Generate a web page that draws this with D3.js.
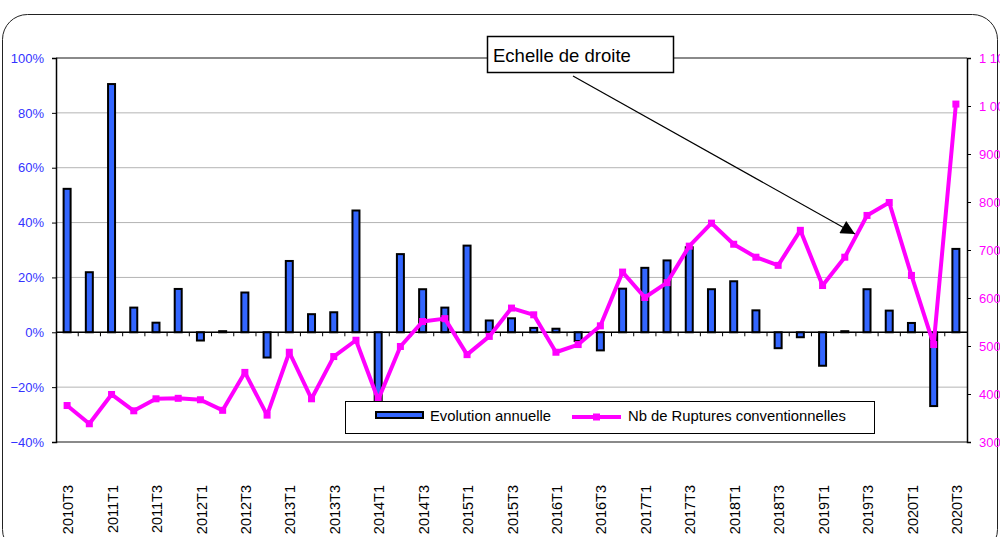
<!DOCTYPE html>
<html>
<head>
  <meta charset="UTF-8">
  <style>
    body { margin: 0; background: white; }
    svg { font-family: Arial, "Liberation Sans", sans-serif; }
  </style>
</head>
<body>
<svg></svg>
<script src="https://d3js.org/d3.v7.min.js"></script>
<script>

let width = 1000, height = 537;

// quarters 2010T3 .. 2020T3
const quarters = ["2010T3","2010T4","2011T1","2011T2","2011T3","2011T4","2012T1","2012T2","2012T3","2012T4",
  "2013T1","2013T2","2013T3","2013T4","2014T1","2014T2","2014T3","2014T4","2015T1","2015T2",
  "2015T3","2015T4","2016T1","2016T2","2016T3","2016T4","2017T1","2017T2","2017T3","2017T4",
  "2018T1","2018T2","2018T3","2018T4","2019T1","2019T2","2019T3","2019T4","2020T1","2020T2","2020T3"];

// evolution annuelle (%)
const evolution = [52.3, 21.9, 90.5, 9.0, 3.5, 15.8, -3.0, 0.4, 14.5, -9.2,
  26.0, 6.6, 7.3, 44.4, -24.7, 28.5, 15.7, 9.0, 31.6, 4.3,
  5.1, 1.6, 1.3, -3.2, -6.6, 15.9, 23.5, 26.2, 31.0, 15.7,
  18.6, 8.0, -5.8, -1.8, -12.2, 0.4, 15.7, 7.9, 3.4, -26.9, 30.4];

// Nb de ruptures conventionnelles (echelle de droite)
const ruptures = [376, 338, 399, 365, 390, 391, 388, 366, 445, 356,
  487, 390, 478, 512, 388, 499, 551, 557, 482, 520,
  579, 565, 487, 503, 542, 654, 601, 632, 708, 756,
  712, 685, 668, 741, 626, 685, 772, 799, 647, 503, 1004];

const leftTicks = [-0.4, -0.2, 0, 0.2, 0.4, 0.6, 0.8, 1.0];
const rightTicks = [300, 400, 500, 600, 700, 800, 900, 1000, 1100];

const plot = {left: 56, right: 967, top: 58, bottom: 442};

let svg = d3.select("svg")
    .attr("width", width)
    .attr("height", height)
    .attr("viewBox", "0 0 " + width + " " + height);

// outer frame
svg.append("rect")
  .attr("x", 2.5).attr("y", 14.5)
  .attr("width", 995).attr("height", 540)
  .attr("rx", 25)
  .attr("fill", "white")
  .attr("stroke", "#222").attr("stroke-width", 1);

let x = d3.scaleBand().domain(quarters).range([plot.left, plot.right]).padding(0);
let yL = d3.scaleLinear().domain([-0.4, 1.0]).range([plot.bottom, plot.top]);
let yR = d3.scaleLinear().domain([300, 1100]).range([plot.bottom, plot.top]);

// gridlines
svg.append("g")
  .selectAll("line")
  .data(leftTicks)
  .enter()
  .append("line")
    .attr("x1", plot.left).attr("x2", plot.right)
    .attr("y1", d => yL(d)).attr("y2", d => yL(d))
    .attr("stroke", (d, i) => (i == 0 || i == leftTicks.length - 1) ? "#8a8a8a" : "#b4b4b4")
    .attr("stroke-width", (d, i) => (i == 0 || i == leftTicks.length - 1) ? 2 : 1);

// left axis
let fr = d3.formatLocale({decimal: ",", thousands: " ", grouping: [3], currency: ["", ""]});

let axL = svg.append("g")
  .attr("transform", `translate(${plot.left},0)`)
  .call(d3.axisLeft(yL).tickValues(leftTicks).tickFormat(d3.format(".0%")).tickSize(4).tickPadding(8));
axL.select(".domain").attr("stroke", "#000").attr("stroke-width", 1.5);
axL.selectAll("text").attr("fill", "#3333ff").style("font-size", "13px").attr("font-family", "Arial, 'Liberation Sans', sans-serif");

// right axis (labels cut by the right edge, as in the original)
let axR = svg.append("g")
  .attr("transform", `translate(${plot.right},0)`)
  .call(d3.axisRight(yR).tickValues(rightTicks).tickFormat(fr.format(",")).tickSize(4).tickPadding(8));
axR.select(".domain").attr("stroke", "#000").attr("stroke-width", 1.5);
axR.selectAll("text").attr("fill", "#ff00ff").style("font-size", "13px").attr("font-family", "Arial, 'Liberation Sans', sans-serif");

// bars
svg.append("g")
  .selectAll("rect")
  .data(evolution)
  .enter()
  .append("rect")
    .attr("x", (d, i) => x(quarters[i]) + x.bandwidth() / 2 - 3.5)
    .attr("width", 7)
    .attr("y", d => yL(Math.max(0, d / 100)))
    .attr("height", d => Math.abs(yL(d / 100) - yL(0)))
    .attr("fill", "#3366ff")
    .attr("stroke", "#000")
    .attr("stroke-width", 2);

// zero line with category ticks
let zero = svg.append("g");
zero.append("line")
  .attr("x1", plot.left).attr("x2", plot.right)
  .attr("y1", yL(0)).attr("y2", yL(0))
  .attr("stroke", "#000").attr("stroke-width", 1.5);
zero.selectAll(".tk")
  .data(quarters.slice(1))
  .enter()
  .append("line")
    .attr("x1", d => x(d)).attr("x2", d => x(d))
    .attr("y1", yL(0)).attr("y2", yL(0) + 4)
    .attr("stroke", "#000").attr("stroke-width", 1);

// x labels every other quarter
svg.append("g")
  .selectAll("text")
  .data(quarters.filter((q, i) => i % 2 == 0))
  .enter()
  .append("text")
    .attr("transform", d => `translate(${x(d) + x.bandwidth() / 2 + 1},485) rotate(-90)`)
    .attr("text-anchor", "end")
    .attr("dy", "0.35em")
    .style("font-size", "14.5px")
    .attr("fill", "#000")
    .text(d => d);

// line
let line = d3.line()
  .x((d, i) => x(quarters[i]) + x.bandwidth() / 2)
  .y(d => yR(d));

svg.append("path")
  .datum(ruptures)
  .attr("fill", "none")
  .attr("stroke", "#ff00ff")
  .attr("stroke-width", 4)
  .attr("stroke-linejoin", "round")
  .attr("d", line);

svg.append("g")
  .selectAll("rect")
  .data(ruptures)
  .enter()
  .append("rect")
    .attr("x", (d, i) => x(quarters[i]) + x.bandwidth() / 2 - 3.5)
    .attr("y", d => yR(d) - 3.5)
    .attr("width", 7).attr("height", 7)
    .attr("fill", "#ff00ff");

// callout "Echelle de droite"
svg.append("defs")
  .append("marker")
  .attr("id", "arrow")
  .attr("viewBox", "0 0 10 10")
  .attr("refX", 10).attr("refY", 5)
  .attr("markerWidth", 16).attr("markerHeight", 14)
  .attr("markerUnits", "userSpaceOnUse")
  .attr("orient", "auto")
  .append("path")
  .attr("d", "M0,0 L10,5 L0,10 Z")
  .attr("fill", "#000");

svg.append("line")
  .attr("x1", 573).attr("y1", 76)
  .attr("x2", 855).attr("y2", 234)
  .attr("stroke", "#000").attr("stroke-width", 1.2)
  .attr("marker-end", "url(#arrow)");

svg.append("rect")
  .attr("x", 487.5).attr("y", 36.5)
  .attr("width", 186).attr("height", 36)
  .attr("fill", "white")
  .attr("stroke", "#000").attr("stroke-width", 1.5);

svg.append("text")
  .attr("x", 493).attr("y", 62)
  .style("font-size", "18.5px")
  .attr("fill", "#000")
  .text("Echelle de droite");

// legend
let legend = svg.append("g");
legend.append("rect")
  .attr("x", 345.5).attr("y", 401.5)
  .attr("width", 529).attr("height", 32)
  .attr("fill", "white")
  .attr("stroke", "#000").attr("stroke-width", 1);

legend.append("rect")
  .attr("x", 376).attr("y", 412)
  .attr("width", 47).attr("height", 6)
  .attr("fill", "#3366ff")
  .attr("stroke", "#000").attr("stroke-width", 2);

legend.append("text")
  .attr("x", 430).attr("y", 421)
  .style("font-size", "14.8px")
  .text("Evolution annuelle");

legend.append("line")
  .attr("x1", 572).attr("x2", 621)
  .attr("y1", 417).attr("y2", 417)
  .attr("stroke", "#ff00ff").attr("stroke-width", 4);

legend.append("rect")
  .attr("x", 593).attr("y", 413.5)
  .attr("width", 7).attr("height", 7)
  .attr("fill", "#ff00ff");

legend.append("text")
  .attr("x", 628).attr("y", 421)
  .style("font-size", "14.8px")
  .text("Nb de Ruptures conventionnelles");

</script>
</body>
</html>
